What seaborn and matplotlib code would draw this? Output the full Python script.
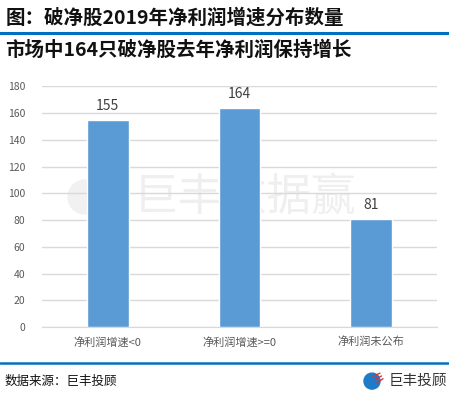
import matplotlib
matplotlib.use("Agg")
import matplotlib.pyplot as plt
import seaborn as sns
import pandas as pd
from matplotlib.patches import Ellipse
from matplotlib.lines import Line2D

# data
categories = ["净利润增速<0", "净利润增速>=0", "净利润未公布"]
counts = [155, 164, 81]
y_ticks = [0, 20, 40, 60, 80, 100, 120, 140, 160, 180]

title = "图：破净股2019年净利润增速分布数量"
subtitle = "市场中164只破净股去年净利润保持增长"
source = "数据来源：巨丰投顾"
brand = "巨丰投顾"
watermark = "巨丰数据赢"

sns.set_style("white")
plt.rcParams["font.family"] = ["Noto Sans CJK SC", "DejaVu Sans"]

df = pd.DataFrame({"cat": categories, "n": counts})

W, H = 449, 397
fig = plt.figure(figsize=(W / 100, H / 100), dpi=100)
ax = fig.add_axes([0.0935, 0.1763, 0.8795, 0.6063])

# faint watermark behind grid and bars
ax.text(0.545, 0.503, watermark, fontsize=32, color="#EFEFEF",
        ha="center", va="center", transform=fig.transFigure, zorder=0.5)
ax.add_patch(Ellipse((85 / W, 1 - 197 / H), 34 / W, 34 / H,
                     transform=fig.transFigure, color="#F1F1F1", zorder=0.5,
                     clip_on=False))

sns.barplot(data=df, x="cat", y="n", color="#5B9BD5", saturation=1,
            width=0.315, ax=ax, zorder=3)

for i, v in enumerate(counts):
    ax.text(i, v + 5, str(v), ha="center", va="bottom", fontsize=10,
            color="#404040", zorder=4)

ax.set_ylim(0, 180)
ax.set_yticks(y_ticks)
ax.yaxis.grid(True, color="#D9D9D9", linewidth=1, zorder=1)
for s in ["left", "right", "top"]:
    ax.spines[s].set_visible(False)
ax.spines["bottom"].set_color("#D9D9D9")
ax.tick_params(axis="y", length=0, pad=12, labelsize=7.5, labelcolor="#595959")
ax.tick_params(axis="x", length=0, pad=7, labelsize=8, labelcolor="#595959")
ax.set_xlabel("")
ax.set_ylabel("")

# header
fig.text(0.012, 0.955, title, fontsize=14, fontweight="bold", color="#111111",
         ha="left", va="center")
fig.add_artist(Line2D([0, 1], [0.917, 0.917], transform=fig.transFigure,
                      color="#0070C0", linewidth=2.2))
fig.text(0.012, 0.873, subtitle, fontsize=14, fontweight="bold", color="#111111",
         ha="left", va="center")

# footer
fig.add_artist(Line2D([0, 1], [0.086, 0.086], transform=fig.transFigure,
                      color="#0070C0", linewidth=1.8))
fig.text(0.01, 0.040, source, fontsize=9, color="#111111", ha="left", va="center")
fig.add_artist(Ellipse((372 / W, 0.040), 16 / W, 16 / H,
                       transform=fig.transFigure, color="#1F7BC8"))
for k in range(3):
    fig.add_artist(Line2D([(373 + 2 * k) / W, (380 + 1.5 * k) / W],
                          [0.052 - 0.008 * k, 0.060 - 0.007 * k],
                          transform=fig.transFigure, color="#E03030",
                          linewidth=1))
fig.text(0.866, 0.040, brand, fontsize=10.5, color="#333333", ha="left",
         va="center")

fig.savefig("out.png", dpi=100)
